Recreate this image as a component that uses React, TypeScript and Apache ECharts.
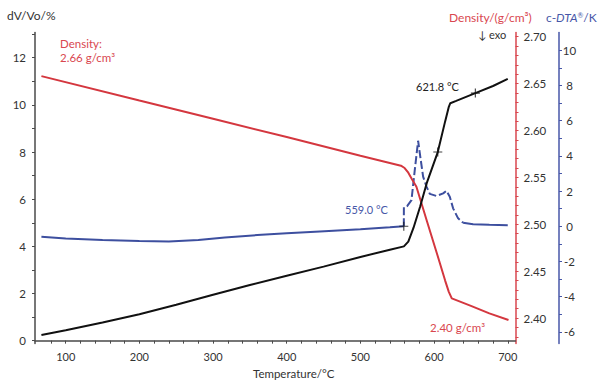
import React, { useEffect, useRef } from "react";
import * as echarts from "echarts";

// dV/Vo (%) vs temperature (°C)
const tempDV = [67, 100, 150, 200, 250, 300, 350, 400, 450, 500, 540, 559, 565, 572, 581, 590, 605, 615, 620, 622, 630, 656, 680, 700];
const dV = [0.24, 0.44, 0.77, 1.12, 1.52, 1.95, 2.36, 2.75, 3.14, 3.55, 3.86, 4.0, 4.2, 4.78, 5.68, 6.68, 8.0, 9.3, 9.92, 10.07, 10.17, 10.5, 10.8, 11.1];

// Density (g/cm3) vs temperature (°C)
const tempDen = [67, 200, 300, 400, 500, 555, 560, 565, 570, 576, 590, 605, 615, 620, 624, 650, 675, 701];
const density = [2.658, 2.632, 2.6125, 2.593, 2.573, 2.5625, 2.56, 2.555, 2.548, 2.54, 2.504, 2.466, 2.44, 2.428, 2.421, 2.413, 2.405, 2.398];

// c-DTA (K) vs temperature (°C)
const tempDTA = [67, 100, 150, 200, 240, 280, 316, 360, 400, 445, 500, 540, 558.9, 559, 563.4, 569.3, 573.8, 578.3, 580.6, 585.1, 589.7, 594.2, 603.3, 612.3, 616.8, 621.3, 625.8, 632.6, 639.4, 653, 675, 700];
const dta = [-0.6, -0.7, -0.78, -0.84, -0.87, -0.78, -0.64, -0.5, -0.4, -0.3, -0.17, -0.06, 0.0, 1.08, 1.15, 1.49, 3.2, 4.86, 4.15, 2.82, 2.25, 1.84, 1.72, 1.87, 2.02, 1.68, 1.02, 0.45, 0.2, 0.11, 0.08, 0.06];

// evaluation markers
const markDVTemps = [605, 656];
const markDTATemps = [558.9];
const dashStart = 558.9;
const dashEnd = 639.4;

// tick labels
const xLabels = [100, 200, 300, 400, 500, 600, 700];
const leftLabels = [0, 2, 4, 6, 8, 10, 12];
const densityLabels = [2.4, 2.45, 2.5, 2.55, 2.6, 2.65, 2.7];
const dtaLabels = [-6, -4, -2, 0, 2, 4, 6, 8, 10];

const FONT = 'Lato, "Noto Sans", sans-serif';
const RED = "#d4373f";
const RED_TXT = "#d9474f";
const BLUE = "#3d4f9f";
const BLUE_AX = "#4757a8";
const GRAY = "#4a4a4a";
const TXT = "#333333";

function steps(a: number, b: number, s: number, d: number) {
  const out: number[] = [];
  const n = Math.round((b - a) / s);
  for (let i = 0; i <= n; i++) out.push(+(a + i * s).toFixed(d));
  return out;
}

const PLUS = "path://M3.5,0H4.5V3.5H8V4.5H4.5V8H3.5V4.5H0V3.5H3.5Z";

export default function App() {
  const ref = useRef<HTMLDivElement>(null);
  useEffect(() => {
    if (!ref.current) return;
    const chart = echarts.init(ref.current, undefined, { renderer: "svg" });

    const dvPairs = tempDV.map((t, i) => [t, dV[i]]);
    const denPairs = tempDen.map((t, i) => [t, density[i]]);
    const dtaPairs = tempDTA.map((t, i) => [t, dta[i]]);
    const i0 = tempDTA.indexOf(dashStart);
    const i1 = tempDTA.indexOf(dashEnd);
    const dtaPre = dtaPairs.slice(0, i0 + 1);
    const dtaDash = dtaPairs.slice(i0, i1 + 1);
    const dtaPost = dtaPairs.slice(i1);
    const dvMarks = markDVTemps.map((t) => [t, dV[tempDV.indexOf(t)]]);
    const dtaMarks = markDTATemps.map((t) => [t, dta[tempDTA.indexOf(t)]]);

    const lbl = { fontFamily: FONT, fontSize: 11, color: TXT };

    chart.setOption({
      animation: false,
      backgroundColor: "#ffffff",
      grid: {
        left: 35,
        right: 84.5,
        top: 32.5,
        bottom: 48.5,
        containLabel: false,
        outerBoundsMode: "none",
      },
      xAxis: [
        {
          type: "value",
          position: "bottom",
          min: 58.3,
          max: 710.5,
          splitLine: { show: false },
          axisLine: { show: true, lineStyle: { color: GRAY, width: 1.5 } },
          axisTick: { show: true, length: 3, lineStyle: { color: GRAY }, customValues: steps(80, 700, 20, 0) },
          axisLabel: { ...lbl, margin: 7, customValues: xLabels },
        },
      ],
      yAxis: [
        {
          type: "value",
          position: "left",
          min: -0.12,
          max: 13.07,
          splitLine: { show: false },
          axisLine: { show: true, lineStyle: { color: GRAY, width: 1.5 } },
          axisTick: { show: true, length: 3, lineStyle: { color: GRAY }, customValues: steps(0, 13, 1, 0) },
          axisLabel: { ...lbl, fontSize: 11.5, margin: 9, customValues: leftLabels },
        },
        {
          type: "value",
          position: "right",
          offset: 0,
          min: 2.3729,
          max: 2.7045,
          splitLine: { show: false },
          axisLine: { show: true, lineStyle: { color: RED_TXT, width: 1.5 } },
          axisTick: { show: true, length: 3, lineStyle: { color: RED_TXT }, customValues: steps(2.38, 2.7, 0.01, 2) },
          axisLabel: {
            ...lbl,
            fontSize: 11.5,
            margin: 8,
            customValues: densityLabels,
            formatter: (v: number) => v.toFixed(2),
          },
        },
        {
          type: "value",
          position: "right",
          offset: 43.5,
          min: -6.66,
          max: 11.01,
          splitLine: { show: false },
          axisLine: { show: true, lineStyle: { color: BLUE_AX, width: 1.5 } },
          axisTick: { show: true, length: 3, lineStyle: { color: BLUE_AX }, customValues: steps(-6, 10, 1, 0) },
          axisLabel: { ...lbl, fontSize: 11.5, margin: 10.5, align: "center", customValues: dtaLabels },
        },
      ],
      series: [
        {
          type: "line",
          name: "DTA base",
          xAxisIndex: 0,
          yAxisIndex: 2,
          data: dtaPre,
          showSymbol: false,
          lineStyle: { color: BLUE, width: 2 },
          z: 2,
        },
        {
          type: "line",
          name: "DTA peak",
          xAxisIndex: 0,
          yAxisIndex: 2,
          data: dtaDash,
          showSymbol: false,
          lineStyle: { color: BLUE, width: 2, type: [8, 3] },
          z: 2,
        },
        {
          type: "line",
          name: "DTA tail",
          xAxisIndex: 0,
          yAxisIndex: 2,
          data: dtaPost,
          showSymbol: false,
          lineStyle: { color: BLUE, width: 2 },
          z: 2,
        },
        {
          type: "line",
          name: "Density",
          xAxisIndex: 0,
          yAxisIndex: 1,
          data: denPairs,
          showSymbol: false,
          lineStyle: { color: RED, width: 2 },
          z: 3,
        },
        {
          type: "line",
          name: "dV/Vo",
          xAxisIndex: 0,
          yAxisIndex: 0,
          data: dvPairs,
          showSymbol: false,
          lineStyle: { color: "#111111", width: 2 },
          z: 4,
        },
        {
          type: "scatter",
          xAxisIndex: 0,
          yAxisIndex: 0,
          data: dvMarks,
          symbol: PLUS,
          symbolSize: 9,
          itemStyle: { color: "#111111" },
          z: 6,
        },
        {
          type: "scatter",
          xAxisIndex: 0,
          yAxisIndex: 2,
          data: dtaMarks,
          symbol: PLUS,
          symbolSize: 9,
          itemStyle: { color: "#111111" },
          z: 6,
        },
      ],
      graphic: [
        { type: "text", left: 7, top: 9, style: { text: "dV/Vo/%", font: `12px ${FONT}`, fill: TXT } },
        { type: "text", left: 449, top: 11, style: { text: "Density/(g/cm³)", font: `12px ${FONT}`, fill: RED_TXT } },
        {
          type: "text",
          left: 546,
          top: 11,
          style: {
            text: "{n|c-}{i|DTA}{s|®}{n|/K}",
            rich: {
              n: { fontFamily: FONT, fontSize: 12, fill: BLUE_AX },
              i: { fontFamily: FONT, fontSize: 12, fontStyle: "italic", fill: BLUE_AX },
              s: { fontFamily: FONT, fontSize: 7, fill: BLUE_AX, verticalAlign: "top", padding: [0, 0, 5, 0] },
            },
          },
        },
        { type: "text", left: 478, top: 29, style: { text: "↓ exo", font: `11px ${FONT}`, fill: TXT } },
        { type: "text", left: 60, top: 37, style: { text: "Density:", font: `11.5px ${FONT}`, fill: RED_TXT } },
        { type: "text", left: 60, top: 51, style: { text: "2.66 g/cm³", font: `11.5px ${FONT}`, fill: RED_TXT } },
        { type: "text", left: 416, top: 81, style: { text: "621.8 °C", font: `11px ${FONT}`, fill: "#222222" } },
        { type: "text", left: 345, top: 204, style: { text: "559.0 °C", font: `11px ${FONT}`, fill: BLUE_AX } },
        { type: "text", left: 430, top: 321, style: { text: "2.40 g/cm³", font: `11.5px ${FONT}`, fill: RED_TXT } },
        { type: "text", left: 253, top: 367, style: { text: "Temperature/°C", font: `11.5px ${FONT}`, fill: TXT } },
      ],
    });
    return () => chart.dispose();
  }, []);
  return (
    <div
      ref={ref}
      style={{ position: "absolute", left: 0, top: 0, width: 600, height: 392, background: "#fff" }}
    />
  );
}
